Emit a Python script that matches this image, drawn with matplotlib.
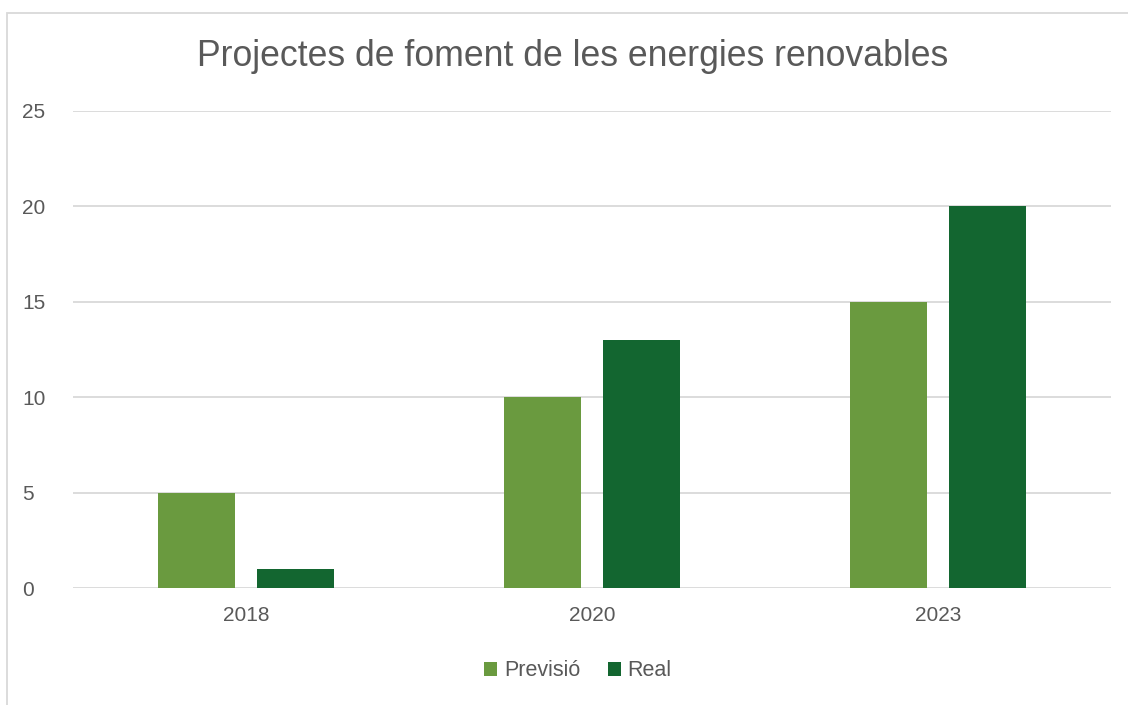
import matplotlib
matplotlib.use("Agg")
import matplotlib.pyplot as plt
import numpy as np
from matplotlib.patches import Rectangle

years = ["2018", "2020", "2023"]
previsio = [5, 10, 15]
real = [1, 13, 20]
series_names = ["Previsió", "Real"]
title = "Projectes de foment de les energies renovables"

plt.rcParams["font.family"] = ["Liberation Sans", "DejaVu Sans"]
text_color = "#595959"
grid_color = "#D9D9D9"

fig = plt.figure(figsize=(11.28, 7.05), dpi=100)
W, H = 1128, 705
ax = fig.add_axes([73 / W, 1 - 588 / H, (1111 - 73) / W, (588 - 111) / H])

x = np.arange(len(years))
bw = 0.2225
off = 0.143
ax.bar(x - off, previsio, bw, color="#6A9A3F", label=series_names[0], zorder=3)
ax.bar(x + off, real, bw, color="#136630", label=series_names[1], zorder=3)

ax.set_xlim(-0.5, len(years) - 0.5)
ax.set_ylim(0, 25)
ax.set_yticks(range(0, 26, 5))
ax.set_xticks(x)
ax.set_xticklabels(years)
ax.grid(axis="y", color=grid_color, linewidth=1.3, zorder=0)
for s in ax.spines.values():
    s.set_visible(False)
ax.tick_params(axis="both", length=0, labelsize=15, colors=text_color)
ax.tick_params(axis="y", pad=36.5)
ax.tick_params(axis="x", pad=13)
for lbl in ax.get_yticklabels():
    lbl.set_horizontalalignment("left")

fig.text(573 / W, 1 - 56 / H, title, ha="center", va="center",
         fontsize=25.7, color=text_color)

fig.legend(loc="center", bbox_to_anchor=(578 / W, 1 - 671 / H), ncol=2,
           frameon=False, fontsize=15.5, labelcolor=text_color,
           handlelength=0.6, handleheight=0.6, handletextpad=0.3,
           columnspacing=1.3)

fig.patches.append(Rectangle((7 / W, -0.05), 1.2, 1 - 13 / H + 0.05,
                             transform=fig.transFigure, fill=False,
                             edgecolor="#D9D9D9", linewidth=1.3))

fig.savefig("out.png", dpi=100)
